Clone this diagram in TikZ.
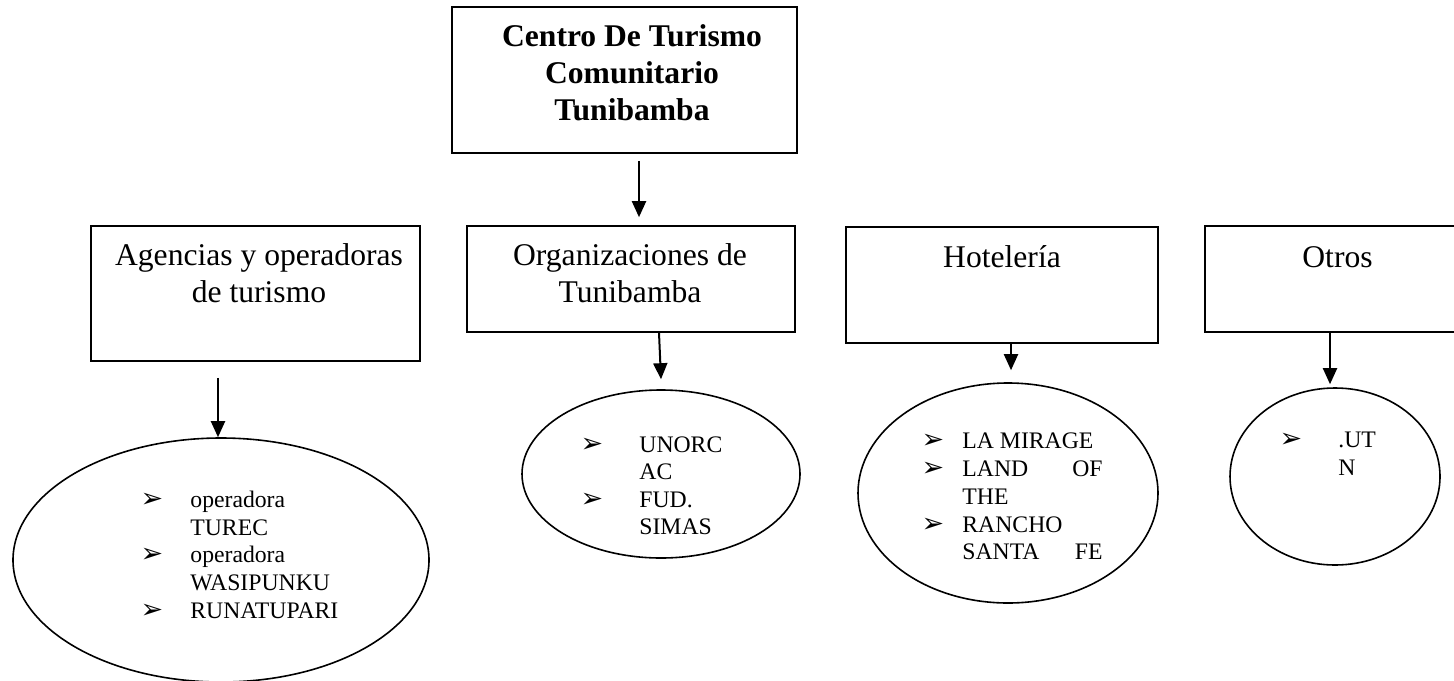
\documentclass[tikz,border=0pt]{standalone}
\usepackage{fontspec}
\setmainfont{Liberation Serif}
\newfontfamily\dingfont{DejaVu Sans}
\usetikzlibrary{arrows.meta,calc,shapes.geometric}
\tikzset{
  box/.style={draw, line width=0.8pt, rectangle, inner sep=0pt},
  oval/.style={draw, line width=0.8pt, ellipse, inner sep=0pt},
  arr/.style={line width=1pt, -{Triangle[width=7pt,length=8pt]}},
  boxtxt/.style={anchor=base, inner sep=0pt, font=\fontsize{15.8}{18.5}\selectfont},
  titletxt/.style={anchor=base, inner sep=0pt, font=\fontsize{15.8}{18.5}\selectfont\bfseries},
  itemtxt/.style={anchor=base west, inner sep=0pt, font=\fontsize{11.85}{13.75}\selectfont},
  itemtxtr/.style={anchor=base east, inner sep=0pt, font=\fontsize{11.85}{13.75}\selectfont},
  bul/.style={anchor=base, inner sep=0pt, font=\dingfont\fontsize{13.5}{14}\selectfont}
}
\begin{document}
\begin{tikzpicture}[x=0.5pt, y=-0.5pt]
\useasboundingbox (0,0) rectangle (1454,680);
\clip (0,0) rectangle (1454,680);
% boxes
\node[box, minimum width=172.5pt, minimum height=73pt] (top) at (624.5,80) {};
\node[box, minimum width=164.5pt, minimum height=67.5pt] (agen) at (255.5,293.5) {};
\node[box, minimum width=164pt, minimum height=53pt] (org) at (631,279) {};
\node[box, minimum width=156pt, minimum height=58pt] (hot) at (1002,285) {};
\node[box, minimum width=132.5pt, minimum height=53pt] (otros) at (1337.5,279) {};
% box texts
\node[titletxt] (t1) at (632,46) {Centro De Turismo};
\node[titletxt] (t2) at (632,83) {Comunitario};
\node[titletxt] (t3) at (632,120) {Tunibamba};
\node[boxtxt] (a1) at (259,265) {Agencias y operadoras};
\node[boxtxt] (a2) at (259,302) {de turismo};
\node[boxtxt] (o1) at (630,265) {Organizaciones de};
\node[boxtxt] (o2) at (630,302) {Tunibamba};
\node[boxtxt] (h1) at (1002,267) {Hotelería};
\node[boxtxt] (r1) at (1337.5,267) {Otros};
% ellipses
\node[oval, minimum width=208pt, minimum height=122pt] (e1) at (221,560) {};
\node[oval, minimum width=139pt, minimum height=84pt] (e2) at (661,474) {};
\node[oval, minimum width=150pt, minimum height=110pt] (e3) at (1008,493) {};
\node[oval, minimum width=105pt, minimum height=88.5pt] (e4) at (1335,476.5) {};
% ellipse 1 items
\node[bul] (b11) at (152,507) {➢};
\node[itemtxt] (i11) at (190,507) {operadora};
\node[itemtxt] (i12) at (190,535) {TUREC};
\node[bul] (b12) at (152,562.5) {➢};
\node[itemtxt] (i13) at (190,562.5) {operadora};
\node[itemtxt] (i14) at (190,590) {WASIPUNKU};
\node[bul] (b13) at (152,618) {➢};
\node[itemtxt] (i15) at (190,618) {RUNATUPARI};
% ellipse 2 items
\node[bul] (b21) at (592,452) {➢};
\node[itemtxt] (i21) at (639,452) {UNORC};
\node[itemtxt] (i22) at (639,479) {AC};
\node[bul] (b22) at (592,507) {➢};
\node[itemtxt] (i23) at (639,507) {FUD.};
\node[itemtxt] (i24) at (639,534) {SIMAS};
% ellipse 3 items
\node[bul] (b31) at (933,448) {➢};
\node[itemtxt] (i31) at (962,448) {LA MIRAGE};
\node[bul] (b32) at (933,476) {➢};
\node[itemtxt] (i32) at (962,476) {LAND};
\node[itemtxtr] (i32b) at (1103,476) {OF};
\node[itemtxt] (i33) at (962,504) {THE};
\node[bul] (b33) at (933,532) {➢};
\node[itemtxt] (i34) at (962,532) {RANCHO};
\node[itemtxt] (i35) at (962,559) {SANTA};
\node[itemtxtr] (i35b) at (1103,559) {FE};
% ellipse 4 items
\node[bul] (b41) at (1291,447) {➢};
\node[itemtxt] (i41) at (1338,447) {.UT};
\node[itemtxt] (i42) at (1338,475) {N};
% connectors
\draw[arr] ($(top.south)+(14.5,7)$) -- ($(org.north)+(8,-8)$);
\draw[arr] ($(agen.south)+(-37.5,16)$) -- ($(e1.north)+(-3,0)$);
\draw[arr] ($(org.south)+(28,0)$) -- ($(e2.north)+(0,-10)$);
\draw[arr] ($(hot.south)+(9,0)$) -- ($(e3.north)+(3,-12)$);
\draw[arr] ($(otros.south)+(-7.5,0)$) -- ($(e4.north)+(-5,-3)$);
\end{tikzpicture}
\end{document}
